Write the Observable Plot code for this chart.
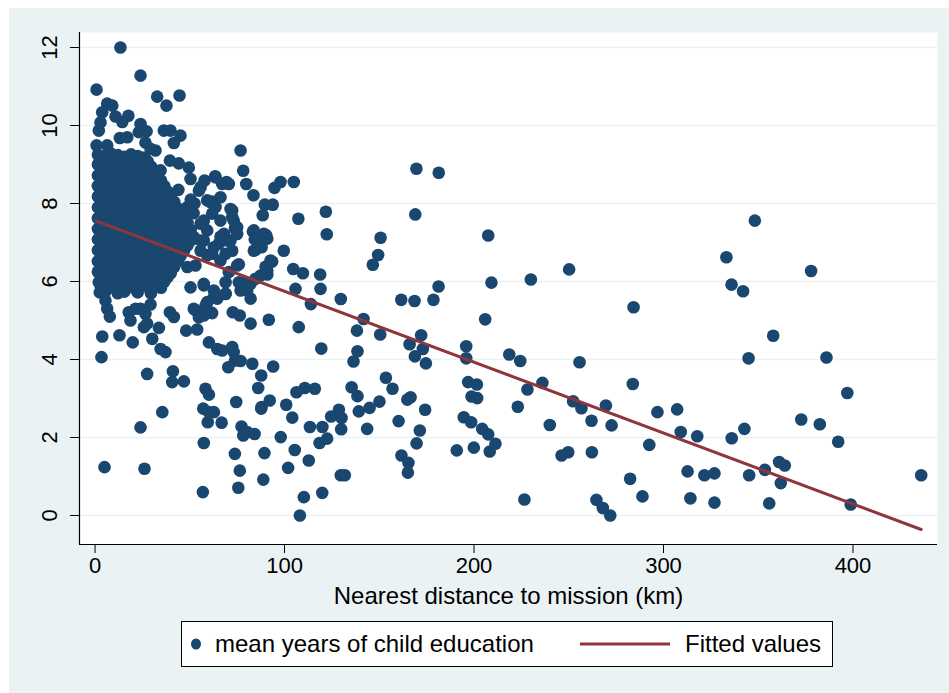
<!DOCTYPE html>
<html><head><meta charset="utf-8">
<script src="https://cdn.jsdelivr.net/npm/d3@7"></script>
<script src="https://cdn.jsdelivr.net/npm/@observablehq/plot@0.6"></script>
<style>
html,body{margin:0;padding:0;background:#fff;width:949px;height:693px;overflow:hidden;}
#bg{position:absolute;left:9px;top:8px;width:940px;height:685px;background:#EAF2F3;}
#chart{position:absolute;left:0;top:0;}
#legend{position:absolute;left:181px;top:621px;width:652px;height:46px;box-sizing:border-box;border:1px solid #000;background:#fff;font-family:"Liberation Sans",Arial,sans-serif;font-size:24px;color:#000;}
.lg{position:absolute;top:50%;transform:translateY(-50%);white-space:nowrap;line-height:1;}
</style></head><body>
<div id="bg"></div>
<div id="chart"></div>
<div id="legend"></div>
<script>
// ---- data (distance km, mean years of child education) ----
const clusterPts = [
[1.5,9.25],[5,9.22],[8.5,9.28],[12,9.24],[15.5,9.2],[19,9.26],[22.5,9.22],[26,9.18],
[1.5,9.0],[5,9.02],[8.5,8.98],[12,9.03],[15.5,8.97],[19,9.0],[22.5,9.04],[26,8.98],[29.5,8.95],
[1.5,8.72],[5,8.75],[8.5,8.7],[12,8.74],[15.5,8.71],[19,8.76],[22.5,8.7],[26,8.73],[29.5,8.69],[33,8.72],
[1.5,8.45],[5,8.42],[8.5,8.47],[12,8.44],[15.5,8.48],[19,8.43],[22.5,8.46],[26,8.44],[29.5,8.47],[33,8.42],[36.5,8.45],
[1.5,8.18],[5,8.2],[8.5,8.15],[12,8.19],[15.5,8.17],[19,8.21],[22.5,8.16],[26,8.19],[29.5,8.18],[33,8.15],[36.5,8.2],[40,8.17],
[1.5,7.9],[5,7.88],[8.5,7.92],[12,7.89],[15.5,7.93],[19,7.88],[22.5,7.91],[26,7.9],[29.5,7.87],[33,7.92],[36.5,7.89],[40,7.91],[43.5,7.88],
[1.5,7.62],[5,7.65],[8.5,7.6],[12,7.63],[15.5,7.6],[19,7.64],[22.5,7.61],[26,7.63],[29.5,7.6],[33,7.64],[36.5,7.62],[40,7.6],[43.5,7.63],[47,7.61],
[1.5,7.35],[5,7.33],[8.5,7.37],[12,7.34],[15.5,7.36],[19,7.33],[22.5,7.35],[26,7.38],[29.5,7.34],[33,7.36],[36.5,7.33],[40,7.35],[43.5,7.37],[47,7.34],[50.5,7.32],
[1.5,7.08],[5,7.1],[8.5,7.06],[12,7.09],[15.5,7.07],[19,7.1],[22.5,7.06],[26,7.08],[29.5,7.11],[33,7.07],[36.5,7.09],[40,7.06],[43.5,7.1],[47,7.08],[50.5,7.05],
[1.5,6.8],[5,6.78],[8.5,6.82],[12,6.79],[15.5,6.81],[19,6.78],[22.5,6.83],[26,6.8],[29.5,6.78],[33,6.82],[36.5,6.79],[40,6.81],[43.5,6.78],[47,6.8],
[1.5,6.52],[5,6.55],[8.5,6.5],[12,6.53],[15.5,6.51],[19,6.54],[22.5,6.5],[26,6.52],[29.5,6.55],[33,6.51],[36.5,6.53],[40,6.5],[43.5,6.52],
[1.5,6.25],[5,6.23],[8.5,6.27],[12,6.24],[15.5,6.26],[19,6.22],[22.5,6.25],[26,6.27],[29.5,6.23],[33,6.26],[36.5,6.24],[40,6.22],
[2,5.98],[5,6.0],[8.5,5.96],[12,5.99],[15.5,5.97],[19,6.0],[22.5,5.96],[26,5.98],[29.5,6.0],[33,5.97],[36.5,5.99],
[2.5,5.72],[5.5,5.75],[12,5.7],[15.5,5.74],[22.5,5.72],[29.5,5.7]
];
const clusterPts2 = [
[3.2,9.12],[6.8,9.1],[10.2,9.14],[13.8,9.11],[17.2,9.13],[20.8,9.1],[24.2,9.12],[27.8,9.08],
[3.2,8.86],[6.8,8.88],[10.2,8.85],[13.8,8.87],[17.2,8.84],[20.8,8.88],[24.2,8.86],[27.8,8.83],[31.2,8.86],
[3.2,8.58],[6.8,8.6],[10.2,8.57],[13.8,8.59],[17.2,8.56],[20.8,8.6],[24.2,8.58],[27.8,8.61],[31.2,8.57],[34.8,8.59],
[3.2,8.31],[6.8,8.33],[10.2,8.3],[13.8,8.32],[17.2,8.29],[20.8,8.31],[24.2,8.34],[27.8,8.3],[31.2,8.32],[34.8,8.29],[38.2,8.31],
[3.2,8.04],[6.8,8.02],[10.2,8.05],[13.8,8.03],[17.2,8.06],[20.8,8.02],[24.2,8.04],[27.8,8.05],[31.2,8.02],[34.8,8.05],[38.2,8.03],[41.8,8.04],
[3.2,7.76],[6.8,7.78],[10.2,7.75],[13.8,7.77],[17.2,7.74],[20.8,7.78],[24.2,7.76],[27.8,7.74],[31.2,7.77],[34.8,7.75],[38.2,7.78],[41.8,7.75],[45.2,7.77],
[3.2,7.49],[6.8,7.47],[10.2,7.5],[13.8,7.48],[17.2,7.51],[20.8,7.47],[24.2,7.49],[27.8,7.5],[31.2,7.47],[34.8,7.5],[38.2,7.48],[41.8,7.51],[45.2,7.48],[48.8,7.5],
[3.2,7.22],[6.8,7.24],[10.2,7.21],[13.8,7.23],[17.2,7.2],[20.8,7.24],[24.2,7.22],[27.8,7.21],[31.2,7.24],[34.8,7.2],[38.2,7.23],[41.8,7.21],[45.2,7.24],[48.8,7.2],
[3.2,6.94],[6.8,6.92],[10.2,6.95],[13.8,6.93],[17.2,6.96],[20.8,6.92],[24.2,6.94],[27.8,6.96],[31.2,6.93],[34.8,6.95],[38.2,6.92],[41.8,6.94],[45.2,6.96],[48.8,6.93],
[3.2,6.66],[6.8,6.68],[10.2,6.65],[13.8,6.67],[17.2,6.64],[20.8,6.68],[24.2,6.66],[27.8,6.64],[31.2,6.67],[34.8,6.65],[38.2,6.68],[41.8,6.65],[45.2,6.66],
[3.2,6.38],[6.8,6.4],[10.2,6.37],[13.8,6.39],[17.2,6.36],[20.8,6.4],[24.2,6.38],[27.8,6.41],[31.2,6.37],[34.8,6.39],[38.2,6.36],[41.8,6.38],
[3.2,6.12],[6.8,6.1],[10.2,6.13],[13.8,6.11],[17.2,6.14],[20.8,6.1],[24.2,6.12],[27.8,6.13],[31.2,6.1],[34.8,6.12],[38.2,6.11],
[3.2,5.85],[6.8,5.87],[10.2,5.84],[17.2,5.86],[20.8,5.83],[27.8,5.86],[34.8,5.84]
];
const upperPts = [
[13.4,12.0],[24.0,11.28],[0.8,10.92],[32.8,10.74],[37.7,10.51],[44.6,10.77],[6.4,10.56],[9.1,10.51],[3.8,10.34],[2.9,10.08],
[2.0,9.87],[10.8,10.23],[14.4,10.09],[17.6,10.25],[24.0,10.04],[23.1,9.83],[27.2,9.85],[13.1,9.68],[17.0,9.70],[36.3,9.87],
[39.8,9.87],[45.1,9.74],[41.6,9.55],[26.6,9.56],[29.3,9.40],[31.9,9.36],[0.8,9.49],[6.4,9.49],[39.5,9.10],[44.2,9.03],
[49.5,8.92],[34.6,8.85],[32.8,8.59],[76.8,9.36]
];
const nearPts = [
[78.2,8.84],[79.8,8.50],[83.6,8.21],[97.9,8.55],[104.9,8.55],[94.7,8.40],[89.6,7.97],[93.8,7.97],[88.5,7.70],[107.3,7.61],
[83.3,7.28],[90.3,7.19],[84.3,7.08],[84.7,6.81],[87.9,6.88],[99.6,6.79],[93.5,6.51],[90.0,6.38],[90.9,6.18],[104.6,6.32],
[109.7,6.21],[73.8,7.36],[72.4,7.82],[67.1,8.50],[69.4,8.55],[63.4,8.70],[57.8,8.59],[55.7,8.42],[66.2,8.16],[61.8,8.05],
[66.2,7.15],[69.8,7.05],[72.4,6.79],[68.9,6.71],[62.7,6.88],[59.2,7.31],[57.4,7.56],[55.7,7.05],[75.9,6.44],[75.9,5.98],
[78.5,5.98],[82.1,5.94],[80.3,5.77],[82.1,5.56],[72.7,5.21],[76.4,5.13],[68.9,5.98],[68.9,5.68],[62.7,5.60],[59.2,5.26],
[57.4,5.90],[82.1,4.92],[91.7,5.02],[107.5,4.83],[50.4,8.63],[54.8,8.33],[71.5,7.86],[72.4,7.65],[59.2,8.08],[63.6,7.91],
[61.8,7.74],[66.2,7.56],[83.8,7.31],[83.8,6.79],[75.0,7.22],[71.5,7.05],[68.0,7.22],[65.3,6.97],[61.8,6.71],[66.2,6.54],
[75.0,6.41],[70.6,6.24],[55.7,7.48],[52.1,7.14],[57.4,7.05],[48.7,6.37],[53.0,6.41],[59.2,6.67],[55.7,6.79],[84.7,6.07],
[45.1,7.39],[46.9,7.65],[41.6,7.48],[38.1,7.56],[42.5,7.14],[46.9,6.97],[61.0,8.03],[73.2,7.56],[89.1,7.22],[85.6,7.05],
[90.9,7.10],[92.6,6.54],[87.3,6.15],[90.9,6.28],[76.8,5.77],[105.8,5.81],[63.6,8.67],[70.6,8.50],[75.0,7.39],
[48.5,7.9],[52.0,7.75],[50.5,8.1],[44.0,8.35],[52.5,8.0]
];
const lowNearPts = [
[5.5,5.51],[6.4,5.30],[7.8,5.10],[17.8,5.21],[18.7,5.0],[21.4,5.30],[24.0,5.30],[26.6,5.17],[29.3,5.41],[27.5,4.92],
[25.8,4.83],[33.7,4.81],[39.5,5.21],[41.6,5.09],[57.4,5.13],[61.8,5.19],[53.0,5.26],[50.4,5.85],[57.4,5.94],[62.7,5.77],
[64.5,5.56],[68.9,5.69],[59.2,5.47],[61.0,5.21],[52.1,5.30],[54.8,5.08],[58.3,5.38],
[3.8,4.59],[12.9,4.62],[19.9,4.44],[3.4,4.06],[27.5,3.63],[35.5,2.65],[24.0,2.26],[41.1,3.70],[40.7,3.42],
[46.9,3.44],[30.2,4.53],[34.6,4.27],[37.2,4.19],[48.1,4.74],[53.9,4.77],[60.1,4.44],[64.5,4.27],[67.1,4.23],[72.4,4.32],
[73.2,4.19],[70.3,3.80],[73.8,3.97],[83.0,3.89],[94.0,3.82],[87.7,3.59],[86.1,3.27],[92.2,2.95],[87.7,2.74],[74.5,2.91],
[58.3,3.25],[60.1,3.10],[57.1,2.74],[60.1,2.65],[62.7,2.65],[59.5,2.39],[66.8,2.38],[77.3,2.28],[78.2,2.05],[84.2,2.09],
[57.4,1.86],[73.8,1.58],[89.4,1.60],[98.0,2.01],[100.9,2.84],[104.1,2.51],[106.3,3.16],[110.7,3.27],[116.0,3.25],[105.4,1.68],
[112.8,1.41],[101.9,1.22],[76.4,1.15],[75.6,0.71],[88.8,0.92],[56.9,0.60],[5.0,1.24],[26.1,1.20],[76.8,3.96],[87.9,2.78],[80.3,2.14]
];
const midPts = [
[169.6,8.89],[181.4,8.79],[121.8,7.79],[169.0,7.72],[122.3,7.21],[150.7,7.12],[207.5,7.18],[149.4,6.68],[146.6,6.43],[250.2,6.31],
[118.8,6.18],[119.0,5.81],[209.2,5.97],[230.0,6.05],[181.3,5.87],[113.9,5.42],[129.7,5.55],[161.6,5.53],[168.6,5.50],[178.6,5.53],
[284.2,5.34],[141.7,5.04],[138.2,4.74],[150.5,4.64],[205.9,5.03],[119.4,4.28],[138.5,4.21],[136.4,3.95],[172.1,4.62],[166.0,4.39],
[173.0,4.27],[168.8,4.08],[174.6,3.90],[195.9,4.34],[195.9,4.03],[218.6,4.13],[224.4,3.96],[255.7,3.93],[135.4,3.29],[138.5,3.06],
[153.5,3.53],[157.0,3.25],[166.5,3.03],[164.8,2.97],[150.1,2.92],[144.9,2.76],[139.2,2.67],[128.7,2.71],[130.1,2.50],[124.6,2.54],
[129.9,2.21],[120.0,2.27],[113.4,2.27],[143.6,2.22],[174.2,2.71],[160.2,2.42],[171.4,2.18],[169.7,1.85],[122.5,1.97],[118.5,1.86],
[161.7,1.54],[165.4,1.35],[165.1,1.10],[129.7,1.03],[131.8,1.03],[119.9,0.58],[110.2,0.47],[108.1,0.0],[190.9,1.67],[199.9,1.74],
[208.3,1.64],[194.6,2.52],[198.5,2.39],[204.3,2.22],[207.5,2.08],[211.3,1.84],[196.9,3.42],[201.5,3.36],[198.7,3.05],[201.7,3.01],
[223.1,2.79],[228.2,3.23],[236.1,3.40],[240.0,2.32],[252.3,2.93],[256.7,2.75],[269.6,2.82],[262.0,2.43],[272.6,2.31],[283.8,3.37],
[246.2,1.54],[249.7,1.62],[262.2,1.62],[282.4,0.94],[288.9,0.49],[226.6,0.41],[264.6,0.40],[268.0,0.19],[271.9,0.0],[292.5,1.81]
];
const farPts = [
[348.2,7.56],[333.2,6.62],[377.9,6.27],[335.9,5.92],[342.0,5.75],[357.9,4.61],[344.9,4.03],[386.0,4.05],[296.8,2.65],[307.2,2.72],
[309.1,2.14],[317.8,2.03],[336.0,1.98],[342.7,2.22],[372.7,2.46],[382.5,2.34],[392.2,1.89],[397.0,3.14],[312.7,1.13],[321.6,1.03],
[326.9,1.08],[314.2,0.44],[326.9,0.33],[345.2,1.03],[353.5,1.17],[361.0,1.37],[364.0,1.28],[361.9,0.83],[355.8,0.31],[398.8,0.28],
[436.0,1.03]
];
const fitDist = [0.8, 436.0];
const fitEdu = [7.55, -0.36];
const xTicks = [0, 100, 200, 300, 400];
const yTicks = [0, 2, 4, 6, 8, 10, 12];
const xLabel = "Nearest distance to mission (km)";
const legendLabels = ["mean years of child education", "Fitted values"];

// ---- build ----
const dotColor = "#1a476f", lineColor = "#90353b", gridColor = "#EAF2F3";
const points = [...clusterPts, ...clusterPts2, ...upperPts, ...nearPts, ...lowNearPts, ...midPts, ...farPts]
  .map(([d, e]) => ({dist: d, edu: e}));
const fit = fitDist.map((d, i) => ({dist: d, edu: fitEdu[i]}));
const xDomain = [-8.2, 444.6];
const yDomain = [-0.744, 12.385];
const font = "'Liberation Sans', Arial, sans-serif";

const chart = Plot.plot({
  width: 949, height: 612,
  marginTop: 32, marginLeft: 79, marginRight: 12, marginBottom: 68,
  style: {background: "transparent", fontFamily: font, color: "#000", overflow: "visible"},
  x: {domain: xDomain},
  y: {domain: yDomain},
  marks: [
    Plot.frame({fill: "white", stroke: "none"}),
    Plot.gridY(yTicks, {stroke: gridColor, strokeOpacity: 1, strokeWidth: 1.6}),
    Plot.dot(points, {x: "dist", y: "edu", r: 6.3, fill: dotColor, stroke: "none"}),
    Plot.line(fit, {x: "dist", y: "edu", stroke: lineColor, strokeWidth: 3}),
    Plot.ruleX([xDomain[0]], {stroke: "#000", strokeWidth: 1.2}),
    Plot.ruleY([yDomain[0]], {stroke: "#000", strokeWidth: 1.2}),
    Plot.axisX({ticks: xTicks, tickSize: 9, tickPadding: 4, fontSize: 22, label: null, tickFormat: d => String(d)}),
    Plot.axisY({ticks: yTicks, tickSize: 9, tickFormat: () => "", label: null}),
    Plot.text(yTicks, {y: d => d, text: d => String(d), frameAnchor: "left", dx: -29.5, rotate: -90,
      textAnchor: "middle", lineAnchor: "middle", fontSize: 22}),
    Plot.text([xLabel], {frameAnchor: "bottom", text: d => d, dy: 52, lineAnchor: "middle", fontSize: 24})
  ]
});
document.getElementById("chart").appendChild(chart);

// ---- legend ----
const lg = document.getElementById("legend");
lg.innerHTML =
  `<span class="lg" style="left:9px;width:10px;height:11px;border-radius:50%;background:${dotColor};"></span>` +
  `<span class="lg" style="left:33px;">${legendLabels[0]}</span>` +
  `<span class="lg" style="left:398px;width:90px;height:3px;background:${lineColor};"></span>` +
  `<span class="lg" style="left:503px;">${legendLabels[1]}</span>`;
</script>
</body></html>
